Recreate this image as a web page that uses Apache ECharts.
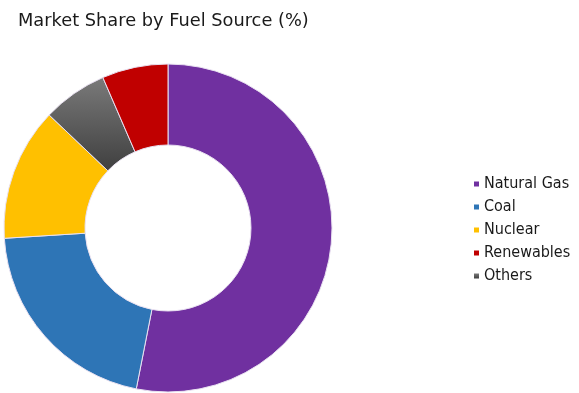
<!DOCTYPE html>
<html>
<head>
<meta charset="utf-8">
<script src="https://cdn.jsdelivr.net/npm/echarts@6/dist/echarts.min.js"></script>
<style>html,body{margin:0;padding:0;background:#fff}#c{width:579px;height:393px}</style>
</head>
<body>
<div id="c"></div>
<script>
var categories = ['Natural Gas', 'Coal', 'Nuclear', 'Others', 'Renewables'];
var values = [53.1, 20.9, 13.1, 6.4, 6.5];
var colors = ['#7030A0', '#2E75B6', '#FFC000', '#5a5a5a', '#C00000'];
var legendOrder = ['Natural Gas', 'Coal', 'Nuclear', 'Renewables', 'Others'];

var chart = echarts.init(document.getElementById('c'));
var data = categories.map(function (n, i) {
  var style = { color: colors[i] };
  if (n === 'Others') {
    style.color = new echarts.graphic.LinearGradient(0, 0, 0, 1, [
      { offset: 0, color: '#7a7a7a' }, { offset: 1, color: '#3f3f3f' }
    ]);
  }
  return { name: n, value: values[i], itemStyle: style };
});
chart.setOption({
  animation: false,
  title: {
    text: 'Market Share by Fuel Source (%)',
    left: 13, top: 7,
    textStyle: { fontFamily: 'DejaVu Sans', fontSize: 17.8, fontWeight: 'normal', color: '#1a1a1a' }
  },
  legend: {
    data: legendOrder,
    orient: 'vertical',
    left: 474, top: 176,
    padding: 0,
    icon: 'rect', itemWidth: 5, itemHeight: 5,
    itemGap: 7,
    itemStyle: { borderWidth: 0 },
    textStyle: { fontFamily: '"DejaVu Sans Condensed", "DejaVu Sans"', fontSize: 16, color: '#1a1a1a' }
  },
  series: [{
    type: 'pie',
    center: [168, 228],
    radius: [83, 164],
    startAngle: 90,
    clockwise: true,
    label: { show: false },
    labelLine: { show: false },
    itemStyle: { borderColor: '#e8e0f0', borderWidth: 1 },
    data: data
  }]
});
</script>
</body>
</html>
